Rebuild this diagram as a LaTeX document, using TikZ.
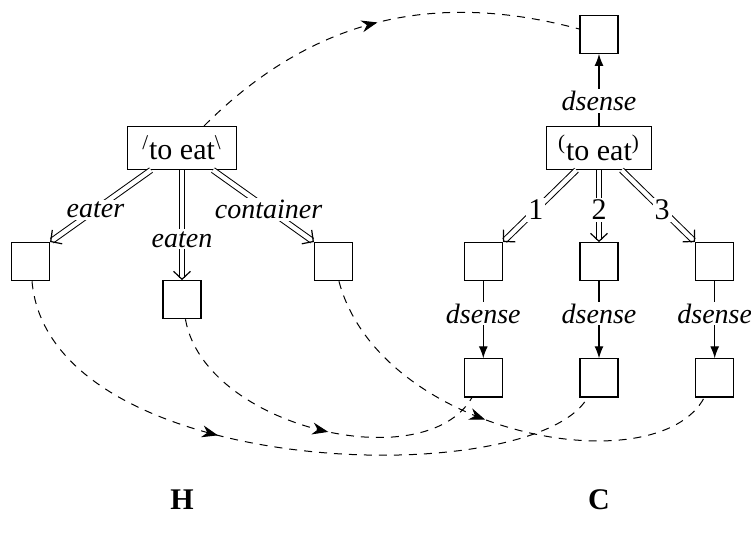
\documentclass[tikz,border=0pt]{standalone}
\usepackage{fontspec}
\setmainfont{Liberation Serif}
\usetikzlibrary{arrows.meta,positioning,decorations.markings}

\begin{document}
\begin{tikzpicture}[
every node/.style={
        font=\fontsize{15}{18}\selectfont
    },
node distance = 36pt and 21.5pt,
    Head/.style = {draw, line width=0.6pt, minimum width=52.5pt,
                   minimum height=21.5pt, inner sep=0pt},
    Slot/.style = {draw, line width=0.6pt, minimum size=19pt, inner sep=0pt},
    Lab/.style  = {fill=white, inner sep=1pt,
                   font=\fontsize{14}{17}\selectfont\itshape},
    Num/.style  = {fill=white, inner sep=1pt},
    Dbl/.style  = {draw, double, double distance=2.2pt, line width=0.5pt,
                   shorten >=1.2pt, postaction=decorate,
                   decoration={markings, mark=at position 1 with
                   {\arrow[line width=0.6pt]{Straight Barb[length=4pt,width=8.5pt]}}}},
    Sgl/.style  = {draw, line width=0.6pt, -{Latex[length=6pt,width=4.5pt]}},
    Link/.style = {dash pattern=on 4pt off 3.5pt, line width=0.5pt,
                   postaction=decorate,
                   decoration={markings, mark=at position #1 with
                   {\arrow{Stealth[length=8pt,width=6pt]}}}},
    Link/.default = 0.5
    ]
\useasboundingbox (0,0) rectangle (375.5pt,-270pt);
% H side
\node (Hhead) [Head, minimum width=54.5pt] at (91pt,-74pt)
        {\textsuperscript{/}to eat\textsuperscript{\textbackslash}};
\node (eater)     [Slot, below left=36pt and 38.5pt of Hhead] {};
\node (eaten)     [Slot, below=55pt of Hhead] {};
\node (container) [Slot, below right=36pt and 38.5pt of Hhead] {};
% C side
\node (Chead) [Head] at (299.5pt,-74pt)
        {\textsuperscript{(}to eat\textsuperscript{)}};
\node (Ctop)   [Slot, above=of Chead] {};
\node (Cone)   [Slot, below left=of Chead] {};
\node (Ctwo)   [Slot, below=of Chead] {};
\node (Cthree) [Slot, below right=of Chead] {};
\node (Gone)   [Slot, below=38.5pt of Cone] {};
\node (Gtwo)   [Slot, below=38.5pt of Ctwo] {};
\node (Gthree) [Slot, below=38.5pt of Cthree] {};

\node (Hname) at (91pt,-250pt)    {\bfseries H};
\node (Cname) at (299.5pt,-250pt) {\bfseries C};

\path
    (Hhead) edge[Dbl] node[Lab, pos=0.55] {eater} (eater.north east)
    (Hhead) edge[Dbl] node[Lab, pos=0.63] {eaten} (eaten)
    (Hhead) edge[Dbl] node[Lab, pos=0.55] {container} (container.north west)
    (Chead) edge[Dbl] node[Num, pos=0.55] {1} (Cone.north east)
    (Chead) edge[Dbl] node[Num, pos=0.55] {2} (Ctwo)
    (Chead) edge[Dbl] node[Num, pos=0.55] {3} (Cthree.north west)
    (Chead) edge[Sgl] node[Lab, pos=0.35] {dsense} (Ctop)
    (Cone)   edge[Sgl] node[Lab, pos=0.42] {dsense} (Gone)
    (Ctwo)   edge[Sgl] node[Lab, pos=0.42] {dsense} (Gtwo)
    (Cthree) edge[Sgl] node[Lab, pos=0.42] {dsense} (Gthree);

% links from H slots into C
\draw[Link] (Hhead) to[out=45, in=165] (Ctop);
\draw[Link=0.4] (eater) to[out=-85, in=-120,
        out distance=100pt, in distance=55pt] (Gtwo);
\draw[Link=0.55] (eaten) to[out=-80, in=-120,
        out distance=55pt, in distance=47pt] (Gone);
\draw[Link=0.47] (container) to[out=-75, in=-118,
        out distance=80pt, in distance=50pt] (Gthree);
\end{tikzpicture}
\end{document}
